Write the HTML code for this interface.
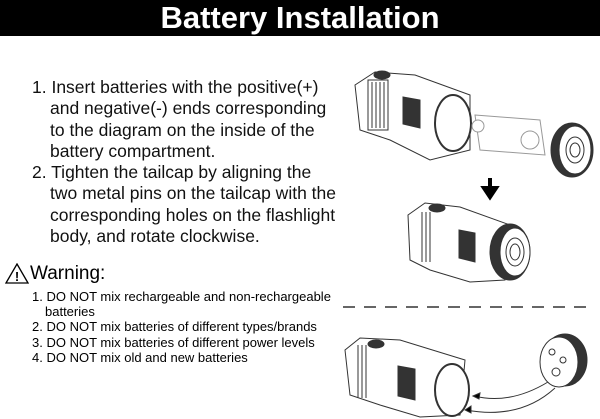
<!DOCTYPE html>
<html><head><style>
body{margin:0;width:600px;height:419px;background:#fff;overflow:hidden;position:relative;font-family:"Liberation Sans",Arial,sans-serif;}
.hd{position:absolute;left:0;top:0;width:600px;height:36px;background:#000;color:#fff;font-weight:bold;font-size:31px;text-align:center;line-height:36px;}
.main{position:absolute;left:32px;top:77px;font-size:17.5px;line-height:21.3px;color:#111;}
.main div{padding-left:18px;text-indent:-18px;}
.w{position:absolute;left:30px;top:263px;font-size:19px;}
.list{position:absolute;left:32px;top:289px;font-size:13px;line-height:15.2px;}
.list div{padding-left:13px;text-indent:-13px;}
</style></head><body>
<div class="hd">Battery Installation</div>
<div class="main">
<div>1. Insert batteries with the positive(+)<br>and negative(-) ends corresponding<br>to the diagram on the inside of the<br>battery compartment.</div>
<div>2. Tighten the tailcap by aligning the<br>two metal pins on the tailcap with the<br>corresponding holes on the flashlight<br>body, and rotate clockwise.</div>
</div>
<svg style="position:absolute;left:5px;top:263px" width="24" height="21"><polygon points="12,1 23,20 1,20" fill="none" stroke="#000" stroke-width="1.3"/><text x="12" y="18" font-size="13" font-weight="bold" text-anchor="middle" font-family="Liberation Sans">!</text></svg>
<div class="w">Warning:</div>
<div class="list">
<div>1. DO NOT mix rechargeable and non-rechargeable<br>batteries</div>
<div>2. DO NOT mix batteries of different types/brands</div>
<div>3. DO NOT mix batteries of different power levels</div>
<div>4. DO NOT mix old and new batteries</div>
</div>
<svg style="position:absolute;left:0;top:0" width="600" height="419" fill="none" stroke="#333" stroke-width="1">
<line x1="343" y1="307" x2="590" y2="307" stroke="#666" stroke-width="2" stroke-dasharray="12,9"/>
<g>
<path d="M355,85 L375,72 L415,75 L470,95 L470,150 L430,160 L390,140 L360,130 Z" fill="#fff"/>
<rect x="368" y="80" width="20" height="50" fill="#fff"/>
<line x1="372" y1="82" x2="372" y2="128"/><line x1="376" y1="82" x2="376" y2="128"/><line x1="380" y1="82" x2="380" y2="128"/><line x1="384" y1="82" x2="384" y2="128"/>
<path d="M403,97 L420,100 L420,128 L403,124 Z" fill="#333"/>
<ellipse cx="453" cy="123" rx="18" ry="28" fill="#fff" stroke-width="2"/>
<ellipse cx="382" cy="75" rx="8" ry="4" fill="#333"/>
<path d="M475,115 L540,120 L545,155 L480,150 Z" fill="#fff" stroke="#999"/>
<circle cx="478" cy="126" r="6" fill="#fff" stroke="#999"/>
<circle cx="530" cy="140" r="9" fill="#fff" stroke="#999"/>
<ellipse cx="572" cy="150" rx="21" ry="27" fill="#333"/>
<ellipse cx="575" cy="150" rx="16" ry="24" fill="#fff"/>
<ellipse cx="575" cy="150" rx="9" ry="13"/><ellipse cx="575" cy="150" rx="5" ry="7"/>
</g>
<path d="M490,178 L490,190 M484,188 L490,197 L496,188 Z" stroke="#000" stroke-width="4" fill="#000"/>
<g>
<path d="M408,215 L425,203 L460,207 L510,225 L505,280 L470,282 L430,270 L410,260 Z" fill="#fff"/>
<line x1="422" y1="212" x2="422" y2="262"/><line x1="426" y1="212" x2="426" y2="262"/><line x1="430" y1="212" x2="430" y2="262"/>
<path d="M459,230 L475,233 L475,262 L459,258 Z" fill="#333"/>
<ellipse cx="437" cy="208" rx="8" ry="4" fill="#333"/>
<ellipse cx="510" cy="252" rx="20" ry="28" fill="#333"/>
<ellipse cx="515" cy="252" rx="15" ry="24" fill="#fff"/>
<ellipse cx="515" cy="252" rx="9" ry="14"/><ellipse cx="515" cy="252" rx="5" ry="8"/>
</g>
<g>
<path d="M345,350 L360,338 L400,340 L465,360 L460,415 L420,417 L380,405 L350,395 Z" fill="#fff"/>
<line x1="358" y1="345" x2="358" y2="398"/><line x1="362" y1="345" x2="362" y2="398"/><line x1="366" y1="345" x2="366" y2="398"/>
<path d="M398,366 L415,369 L415,400 L398,396 Z" fill="#333"/>
<ellipse cx="376" cy="344" rx="8" ry="4" fill="#333"/>
<ellipse cx="452" cy="390" rx="17" ry="26" fill="#fff" stroke-width="2"/>
<ellipse cx="565" cy="360" rx="22" ry="26" fill="#333"/>
<ellipse cx="559" cy="362" rx="19" ry="25" fill="#fff"/>
<circle cx="552" cy="352" r="3"/><circle cx="563" cy="360" r="3"/><circle cx="556" cy="372" r="4"/>
<path d="M548,382 Q510,405 474,396" /><path d="M473,396 L480,393 L479,399 Z" fill="#000"/>
<path d="M555,388 Q520,420 466,410"/><path d="M465,410 L471,406 L471,413 Z" fill="#000"/>
</g>
</svg>
</body></html>
